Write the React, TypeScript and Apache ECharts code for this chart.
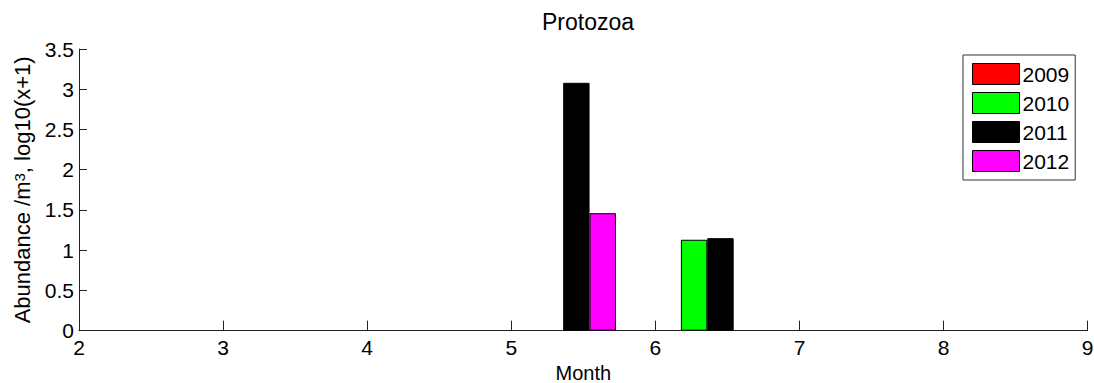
import React, { useEffect, useRef } from "react";
import * as echarts from "echarts";

const TITLE = "Protozoa";
const X_NAME = "Month";
const Y_NAME = "Abundance /m{sup|3}, log10(x+1)";
const YEARS = ["2009", "2010", "2011", "2012"];
const COLORS = ["#ff0000", "#00ff00", "#000000", "#ff00ff"];
// group positions on month axis
const GROUP_X = [5.36, 6.36];
const V2009 = [0, 0];
const V2010 = [0, 1.13];
const V2011 = [3.08, 1.15];
const V2012 = [1.46, 0];
const SERIES_VALUES = [V2009, V2010, V2011, V2012];
const BAR_DATA_WIDTH = 0.183; // width of each bar in month units (MATLAB grouped layout)

const FONT = "'Liberation Sans', Arial, sans-serif";

export default function App() {
  const ref = useRef<HTMLDivElement>(null);
  useEffect(() => {
    if (!ref.current) return;
    const chart = echarts.init(ref.current, undefined, { renderer: "svg" });
    const n = YEARS.length;
    const series = YEARS.map((year, i) => ({
      name: year,
      type: "bar",
      barWidth: 26.4,
      barGap: "-100%",
      itemStyle: { color: COLORS[i], borderColor: "#000", borderWidth: 1 },
      // zero-height bars are invisible in the reference (they sit on the axis)
      data: GROUP_X.map((gx, j) => [
        gx + (i - (n - 1) / 2) * BAR_DATA_WIDTH,
        SERIES_VALUES[i][j] === 0 ? null : SERIES_VALUES[i][j],
      ]),
    }));
    chart.setOption({
      animation: false,
      backgroundColor: "#fff",
      textStyle: { fontFamily: FONT, color: "#000" },
      title: {
        text: TITLE,
        left: 583,
        top: 5,
        textAlign: "center",
        textStyle: { fontFamily: FONT, fontSize: 23, fontWeight: "normal", color: "#000" },
      },
      legend: {
        orient: "vertical",
        left: 963,
        top: 55,
        padding: [8, 6, 8, 9],
        itemWidth: 47,
        itemHeight: 21,
        itemGap: 7,
        icon: "rect",
        borderColor: "#333",
        borderWidth: 1,
        backgroundColor: "#fff",
        itemStyle: { borderColor: "#000", borderWidth: 1 },
        textStyle: { fontFamily: FONT, fontSize: 21, color: "#000", padding: [0, 0, 0, -2] },
        data: YEARS,
      },
      grid: {
        left: 79,
        right: 6.3,
        top: 49,
        bottom: 52.3,
        containLabel: false,
        outerBoundsMode: "none",
      },
      xAxis: {
        type: "value",
        min: 2,
        max: 9,
        interval: 1,
        name: X_NAME,
        nameLocation: "middle",
        nameGap: 31,
        nameTextStyle: { fontFamily: FONT, fontSize: 20, color: "#000" },
        axisLine: { lineStyle: { color: "#222", width: 1 } },
        axisTick: { inside: true, length: 10, lineStyle: { color: "#222" } },
        axisLabel: { fontFamily: FONT, fontSize: 21, color: "#000", margin: 6 },
        splitLine: { show: false },
      },
      yAxis: {
        type: "value",
        min: 0,
        max: 3.5,
        interval: 0.5,
        name: Y_NAME,
        nameLocation: "middle",
        nameRotate: 90,
        nameGap: 43,
        nameTextStyle: {
          fontFamily: FONT,
          fontSize: 22,
          color: "#000",
          rich: {
            sup: { fontFamily: FONT, fontSize: 15, color: "#000", verticalAlign: "top", padding: [0, 0, 6, 0] },
          },
        },
        axisLine: { show: true, lineStyle: { color: "#222", width: 1 } },
        axisTick: { show: true, inside: true, length: 8, lineStyle: { color: "#222" } },
        axisLabel: { fontFamily: FONT, fontSize: 21, color: "#000", margin: 5 },
        splitLine: { show: false },
      },
      series,
    });
    return () => chart.dispose();
  }, []);
  return (
    <div
      ref={ref}
      style={{ position: "fixed", left: 0, top: 0, width: 1094, height: 383, background: "#fff" }}
    />
  );
}
